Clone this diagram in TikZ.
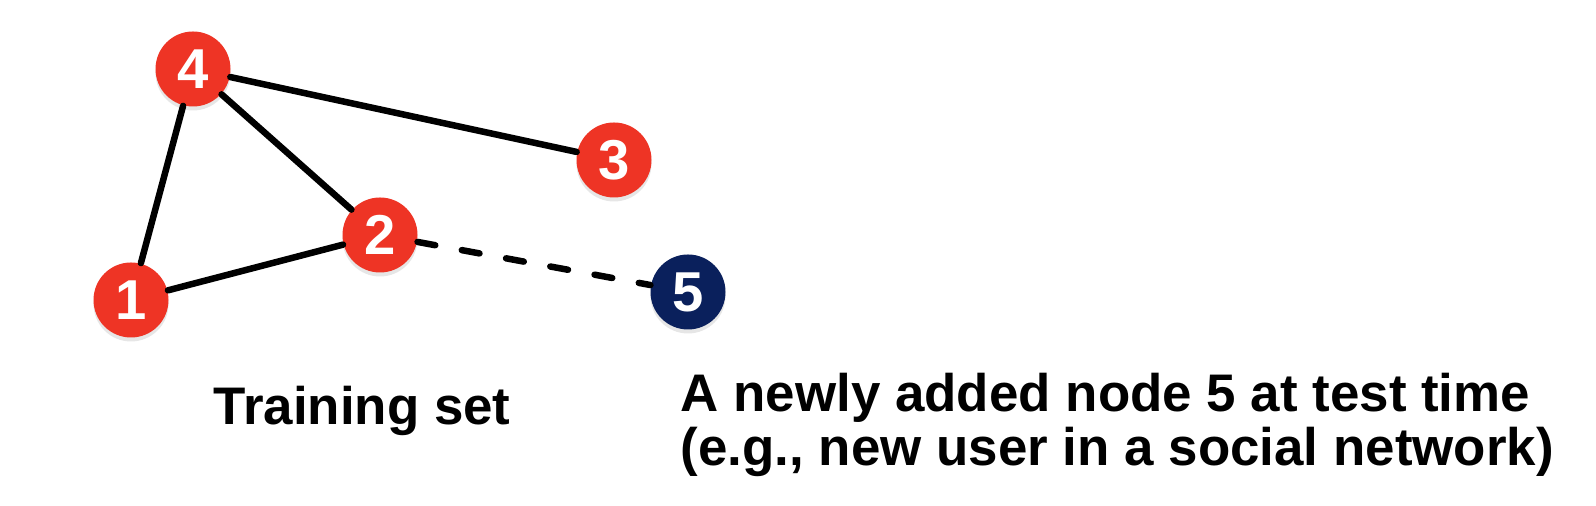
\documentclass[tikz,border=0pt]{standalone}
\usepackage{fontspec}
\setmainfont{Liberation Sans}
\usetikzlibrary{shadows}
\definecolor{nodered}{RGB}{238,52,37}
\definecolor{nodenavy}{RGB}{10,32,92}
\begin{document}
\begin{tikzpicture}[
    vertex/.style={circle, minimum size=0.75cm, inner sep=0pt, fill=nodered, text=white,
        font=\fontsize{16}{16}\selectfont\bfseries,
        drop shadow={opacity=0.2, shadow xshift=0pt, shadow yshift=-0.04cm}},
    testvertex/.style={vertex, fill=nodenavy},
    edge/.style={line width=0.065cm, line cap=round},
    label/.style={font=\fontsize{15.05}{15.4}\selectfont\bfseries, inner sep=0pt, anchor=base west}]
    \useasboundingbox (0,0) rectangle (15.96,5.06);
    \node[vertex] (n4) at (1.93,4.37) {4};
    \node[vertex] (n3) at (6.14,3.46) {3};
    \node[vertex] (n2) at (3.80,2.71) {2};
    \node[vertex] (n1) at (1.31,2.06) {1};
    \node[testvertex] (n5) at (6.88,2.14) {5};

    \draw[edge] (n1) -- (n4);
    \draw[edge] (n1) -- (n2);
    \draw[edge] (n4) -- (n2);
    \draw[edge] (n4) -- (n3);
    \draw[edge, dash pattern=on 0.18cm off 0.27cm] (n2) -- (n5);

    \node[label] (train) at (2.13,0.81) {Training set};
    \node[label] (test) at (6.80,0.94) {A newly added node 5 at test time};
    \node[label] (testnote) at (6.80,0.40) {(e.g., new user in a social network)};
\end{tikzpicture}
\end{document}
